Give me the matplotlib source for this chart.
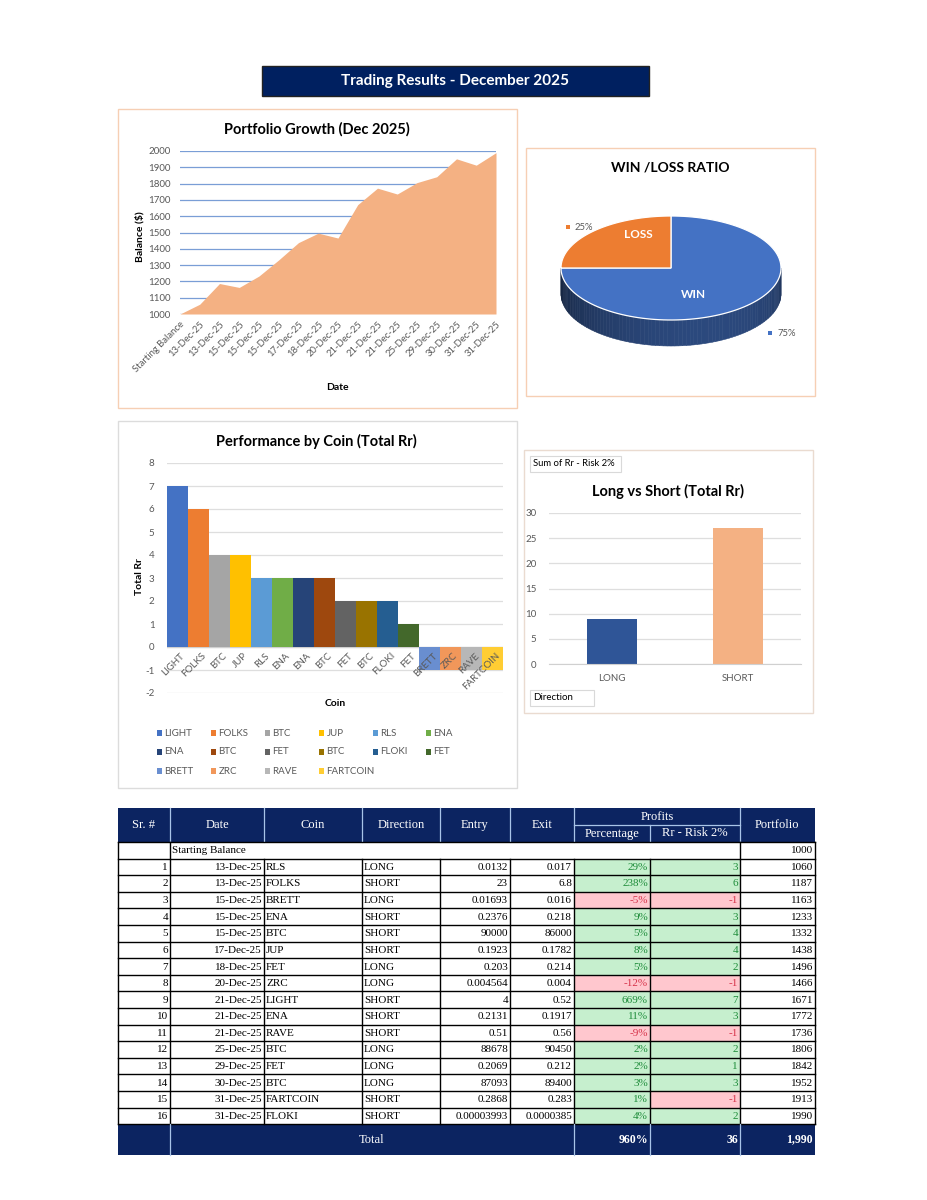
import numpy as np
import matplotlib
matplotlib.use("Agg")
import matplotlib.pyplot as plt
import matplotlib.transforms as mtransforms
from matplotlib.patches import Rectangle, Polygon

plt.rcParams['font.family'] = ['Lato', 'DejaVu Sans']
plt.rcParams['axes.unicode_minus'] = False

W, H = 927, 1200

# ---- data ----
start_balance = 1000
trade_no = list(range(1, 17))
trade_dates = ["13-Dec-25", "13-Dec-25", "15-Dec-25", "15-Dec-25", "15-Dec-25", "17-Dec-25",
               "18-Dec-25", "20-Dec-25", "21-Dec-25", "21-Dec-25", "21-Dec-25", "25-Dec-25",
               "29-Dec-25", "30-Dec-25", "31-Dec-25", "31-Dec-25"]
trade_coins = ["RLS", "FOLKS", "BRETT", "ENA", "BTC", "JUP", "FET", "ZRC", "LIGHT", "ENA",
               "RAVE", "BTC", "FET", "BTC", "FARTCOIN", "FLOKI"]
trade_dirs = ["LONG", "SHORT", "LONG", "SHORT", "SHORT", "SHORT", "LONG", "LONG", "SHORT",
              "SHORT", "SHORT", "LONG", "LONG", "LONG", "SHORT", "SHORT"]
trade_entry = ["0.0132", "23", "0.01693", "0.2376", "90000", "0.1923", "0.203", "0.004564",
               "4", "0.2131", "0.51", "88678", "0.2069", "87093", "0.2868", "0.00003993"]
trade_exit = ["0.017", "6.8", "0.016", "0.218", "86000", "0.1782", "0.214", "0.004",
              "0.52", "0.1917", "0.56", "90450", "0.212", "89400", "0.283", "0.0000385"]
trade_pct = [29, 238, -5, 9, 5, 8, 5, -12, 669, 11, -9, 2, 2, 3, 1, 4]
trade_rr = [3, 6, -1, 3, 4, 4, 2, -1, 7, 3, -1, 2, 1, 3, -1, 2]
trade_portfolio = [1060, 1187, 1163, 1233, 1332, 1438, 1496, 1466, 1671, 1772, 1736,
                   1806, 1842, 1952, 1913, 1990]

growth_dates = ["Starting Balance"] + trade_dates
growth_balance = [start_balance] + trade_portfolio

coin_names = ["LIGHT", "FOLKS", "BTC", "JUP", "RLS", "ENA", "ENA", "BTC", "FET", "BTC",
              "FLOKI", "FET", "BRETT", "ZRC", "RAVE", "FARTCOIN"]
coin_rr = [7, 6, 4, 4, 3, 3, 3, 3, 2, 2, 2, 1, -1, -1, -1, -1]
coin_colors = ["#4472c4", "#ed7d31", "#a5a5a5", "#ffc000", "#5b9bd5", "#70ad47",
               "#264478", "#9e480e", "#636363", "#997300", "#255e91", "#43682b",
               "#698ed0", "#f1975a", "#b7b7b7", "#ffcd33"]

win_loss_labels = ["WIN", "LOSS"]
win_loss_counts = [12, 4]
win_loss_colors = ["#4472c4", "#ed7d31"]

direction_names = ["LONG", "SHORT"]
direction_rr = [9, 27]
direction_colors = ["#2f5597", "#f4b183"]

NAVY = "#0c2461"
GRAY_TXT = "#595959"

fig = plt.figure(figsize=(W / 100, H / 100), dpi=100)
base = fig.add_axes([0, 0, 1, 1])
base.set_xlim(0, W)
base.set_ylim(H, 0)
base.axis('off')


def px_axes(x0, y0, x1, y1):
    return fig.add_axes([x0 / W, 1 - y1 / H, (x1 - x0) / W, (y1 - y0) / H])


def clean(ax, grid_color):
    for s in ax.spines.values():
        s.set_visible(False)
    ax.grid(axis='y', color=grid_color, lw=0.9)
    ax.set_axisbelow(True)
    ax.tick_params(length=0, labelsize=7, colors=GRAY_TXT)


# ---- banner ----
base.add_patch(Rectangle((262, 66), 387, 30, fc="#002060", ec="#222222", lw=1))
base.text(455, 81.5, "Trading Results - December 2025", color="white", fontsize=11,
          fontweight="bold", ha="center", va="center")

# ---- frames ----
base.add_patch(Rectangle((118, 109), 399, 299, fill=False, ec="#f6cfb4", lw=1))
base.add_patch(Rectangle((526, 148), 289, 248, fill=False, ec="#f6cfb4", lw=1))
base.add_patch(Rectangle((118, 421), 399, 367, fill=False, ec="#dcdcdc", lw=1))
base.add_patch(Rectangle((524, 450), 289, 263, fill=False, ec="#eadbd0", lw=1))

# ---- portfolio growth ----
ax1 = px_axes(180, 151, 496, 314)
xg = np.arange(len(growth_balance))
ax1.fill_between(xg, growth_balance, 1000, color="#f4b183", lw=0, zorder=2)
ax1.set_xlim(0, len(xg) - 1)
ax1.set_ylim(1000, 2000)
ax1.set_yticks(range(1000, 2001, 100))
clean(ax1, "#7a9ed6")
ax1.tick_params(axis='y', pad=7)
ax1.set_xticks(xg)
ax1.set_xticklabels(growth_dates, rotation=45, ha='right', va='top', rotation_mode='anchor',
                    fontsize=6.8)
ax1.tick_params(axis='x', pad=4)
base.text(317, 129, "Portfolio Growth (Dec 2025)", fontsize=10.5, fontweight="bold",
          ha="center", va="center")
base.text(140, 237, "Balance ($)", fontsize=7.5, fontweight="bold", rotation=90,
          ha="center", va="center")
base.text(337, 388, "Date", fontsize=7.5, fontweight="bold", ha="center", va="center")

# ---- win / loss 3D pie ----
cx, cy, ra, rb, depth = 671, 268, 110, 52, 26


def ell(t, dy=0.0):
    t = np.radians(t)
    return np.column_stack([cx + ra * np.cos(t), cy - rb * np.sin(t) + dy])


fracs = np.array(win_loss_counts) / sum(win_loss_counts)
start = 90.0
slices = []
for f in fracs:
    slices.append((start, start - 360 * f))
    start -= 360 * f

# side wall (front half, angles -180..0)
steps = np.linspace(-180, 0, 91)
for t0, t1 in zip(steps[:-1], steps[1:]):
    tm = (t0 + t1) / 2
    k = 0
    for i, (s0, s1) in enumerate(slices):
        lo, hi = min(s0, s1), max(s0, s1)
        if lo <= tm <= hi or lo <= tm - 360 <= hi or lo <= tm + 360 <= hi:
            k = i
    base_rgb = np.array(matplotlib.colors.to_rgb(win_loss_colors[k]))
    shade = 0.4 + 0.24 * np.cos(np.radians(tm + 70))
    col = base_rgb * shade
    pts = np.vstack([ell([t0, t1]), ell([t1, t0], depth)])
    base.add_patch(Polygon(pts, closed=True, fc=col, ec=col, lw=0.4))

for (s0, s1), col in zip(slices, win_loss_colors):
    arc = ell(np.linspace(s0, s1, 120))
    pts = np.vstack([[cx, cy], arc])
    base.add_patch(Polygon(pts, closed=True, fc=col, ec="white", lw=0.9, zorder=3))

base.text(670, 167, "WIN /LOSS RATIO", fontsize=10, fontweight="bold", ha="center", va="center")
base.text(638, 234, win_loss_labels[1], color="white", fontsize=8.5, fontweight="bold",
          ha="center", va="center", zorder=4)
base.text(693, 295, win_loss_labels[0], color="white", fontsize=8.5, fontweight="bold",
          ha="center", va="center", zorder=4)
base.add_patch(Rectangle((566, 225), 4, 4, fc=win_loss_colors[1], ec="none"))
base.text(575, 227, f"{fracs[1]:.0%}", fontsize=6.8, color=GRAY_TXT, va="center")
base.add_patch(Rectangle((768, 331), 4, 4, fc=win_loss_colors[0], ec="none"))
base.text(777, 333, f"{fracs[0]:.0%}", fontsize=6.8, color=GRAY_TXT, va="center")

# ---- performance by coin ----
ax3 = px_axes(167, 463, 503, 693)
xc = np.arange(len(coin_rr))
ax3.bar(xc, coin_rr, width=1.0, color=coin_colors, zorder=2)
ax3.set_xlim(-0.5, len(coin_rr) - 0.5)
ax3.set_ylim(-2, 8)
ax3.set_yticks(range(-2, 9))
clean(ax3, "#dedede")
ax3.tick_params(axis='y', pad=9)
ax3.axhline(0, color="#d0d0d0", lw=0.9, zorder=1)
ax3.set_xticks([])
# category labels sit on the zero line, drawn over the negative bars
lbl_off = mtransforms.offset_copy(ax3.transData, fig=fig, x=2, y=-3, units='points')
for i, name in enumerate(coin_names):
    ax3.text(i, 0, name, transform=lbl_off, rotation=45, ha='right', va='top',
             rotation_mode='anchor', fontsize=7, color=GRAY_TXT, zorder=5)
base.text(316, 441, "Performance by Coin (Total Rr)", fontsize=10.5, fontweight="bold",
          ha="center", va="center")
base.text(140, 577, "Total Rr", fontsize=7.5, fontweight="bold", rotation=90,
          ha="center", va="center")
base.text(335, 703, "Coin", fontsize=7.5, fontweight="bold", ha="center", va="center")

# legend laid out in rows like Excel
leg_x = [157, 211, 265, 319, 373, 426]
leg_y = [733, 752, 771]
for i, (name, col) in enumerate(zip(coin_names, coin_colors)):
    lx, ly = leg_x[i % 6], leg_y[i // 6]
    base.add_patch(Rectangle((lx, ly - 2.7), 5.5, 5.5, fc=col, ec="none"))
    base.text(lx + 7.5, ly, name, fontsize=7, color=GRAY_TXT, va="center")

# ---- long vs short ----
ax4 = px_axes(549, 513, 801, 664)
xd = np.arange(len(direction_rr))
ax4.bar(xd, direction_rr, width=0.39, color=direction_colors, zorder=2)
ax4.set_xlim(-0.5, len(direction_rr) - 0.5)
ax4.set_ylim(0, 30)
ax4.set_yticks(range(0, 31, 5))
clean(ax4, "#dedede")
ax4.tick_params(axis='y', pad=9)
ax4.spines['bottom'].set_visible(True)
ax4.spines['bottom'].set_color("#d0d0d0")
ax4.set_xticks(xd)
ax4.set_xticklabels(direction_names)
ax4.tick_params(axis='x', pad=7)
base.text(668, 491, "Long vs Short (Total Rr)", fontsize=10.5, fontweight="bold",
          ha="center", va="center")
base.add_patch(Rectangle((530, 456), 91, 16, fill=False, ec="#d9d9d9", lw=0.8))
base.text(533, 464, "Sum of Rr - Risk 2%", fontsize=6.8, va="center")
base.add_patch(Rectangle((530, 690), 64, 16, fill=False, ec="#d9d9d9", lw=0.8))
base.text(533, 698, "Direction", fontsize=7, va="center")

# ---- trade table ----
SERIF = ['Liberation Serif', 'DejaVu Serif']
col_edges = [118, 170, 264, 362, 440, 510, 574, 650, 740, 815]
hdr_top, hdr_mid, hdr_bot = 808, 825, 842
row_h = 16.6
sb_top = hdr_bot
rows_top = sb_top + row_h
tot_top = rows_top + row_h * len(trade_no)
tot_bot = 1155
LIGHT_LINE = "#a9c4e8"

base.add_patch(Rectangle((118, hdr_top), 697, hdr_bot - hdr_top, fc=NAVY, ec="none"))
for xe in col_edges[1:-1]:
    if xe == 650:
        base.plot([xe, xe], [hdr_mid, hdr_bot], color=LIGHT_LINE, lw=0.9)
    else:
        base.plot([xe, xe], [hdr_top, hdr_bot], color=LIGHT_LINE, lw=0.9)
base.plot([574, 740], [hdr_mid, hdr_mid], color=LIGHT_LINE, lw=0.9)

hdr_names = ["Sr. #", "Date", "Coin", "Direction", "Entry", "Exit"]
for i, name in enumerate(hdr_names):
    base.text((col_edges[i] + col_edges[i + 1]) / 2, (hdr_top + hdr_bot) / 2, name,
              color="white", fontsize=9, family=SERIF, ha="center", va="center")
base.text(657, (hdr_top + hdr_mid) / 2, "Profits", color="white", fontsize=9,
          family=SERIF, ha="center", va="center")
base.text(612, (hdr_mid + hdr_bot) / 2, "Percentage", color="white", fontsize=9,
          family=SERIF, ha="center", va="center")
base.text(695, (hdr_mid + hdr_bot) / 2, "Rr - Risk 2%", color="white", fontsize=9,
          family=SERIF, ha="center", va="center")
base.text(777, (hdr_top + hdr_bot) / 2, "Portfolio", color="white", fontsize=9,
          family=SERIF, ha="center", va="center")

# cell fills
for r in range(len(trade_no)):
    y0 = rows_top + r * row_h
    for ci, val in ((6, trade_pct[r]), (7, trade_rr[r])):
        fc = "#c6efce" if val >= 0 else "#ffc7ce"
        base.add_patch(Rectangle((col_edges[ci], y0), col_edges[ci + 1] - col_edges[ci], row_h,
                                 fc=fc, ec="none"))

# grid lines
for k in range(len(trade_no) + 2):
    yy = sb_top + k * row_h
    base.plot([118, 815], [yy, yy], color="black", lw=1.0)
for xe in [118, 170, 740, 815]:
    base.plot([xe, xe], [sb_top, tot_top], color="black", lw=1.0)
for xe in col_edges[2:8]:
    base.plot([xe, xe], [rows_top, tot_top], color="black", lw=1.0)

ty = sb_top + row_h / 2
base.text(172, ty, "Starting Balance", fontsize=8, family=SERIF, va="center")
base.text(813, ty, str(start_balance), fontsize=8, family=SERIF, va="center", ha="right")

for r in range(len(trade_no)):
    ty = rows_top + r * row_h + row_h / 2 + 0.5
    pc = "#1e8c3a" if trade_pct[r] >= 0 else "#d6334a"
    rc = "#1e8c3a" if trade_rr[r] >= 0 else "#d6334a"
    cells = [(str(trade_no[r]), 168, 'right', 'black'),
             (trade_dates[r], 262, 'right', 'black'),
             (trade_coins[r], 266, 'left', 'black'),
             (trade_dirs[r], 364, 'left', 'black'),
             (trade_entry[r], 508, 'right', 'black'),
             (trade_exit[r], 572, 'right', 'black'),
             (f"{trade_pct[r]}%", 648, 'right', pc),
             (str(trade_rr[r]), 738, 'right', rc),
             (str(trade_portfolio[r]), 813, 'right', 'black')]
    for txt, xx, ha, col in cells:
        base.text(xx, ty, txt, fontsize=8, family=SERIF, va="center", ha=ha, color=col)

# total row
base.add_patch(Rectangle((118, tot_top), 697, tot_bot - tot_top, fc=NAVY, ec="none"))
for xe in [170, 574, 650, 740]:
    base.plot([xe, xe], [tot_top, tot_bot], color=LIGHT_LINE, lw=0.9)
tmid = (tot_top + tot_bot) / 2
base.text(372, tmid, "Total", color="white", fontsize=9, family=SERIF, ha="center", va="center")
base.text(648, tmid, f"{sum(trade_pct)}%", color="white", fontsize=8.5, fontweight="bold",
          family=SERIF, ha="right", va="center")
base.text(738, tmid, str(sum(trade_rr)), color="white", fontsize=8.5, fontweight="bold",
          family=SERIF, ha="right", va="center")
base.text(813, tmid, f"{trade_portfolio[-1]:,}", color="white", fontsize=8.5, fontweight="bold",
          family=SERIF, ha="right", va="center")

fig.savefig("out.png", dpi=100)
